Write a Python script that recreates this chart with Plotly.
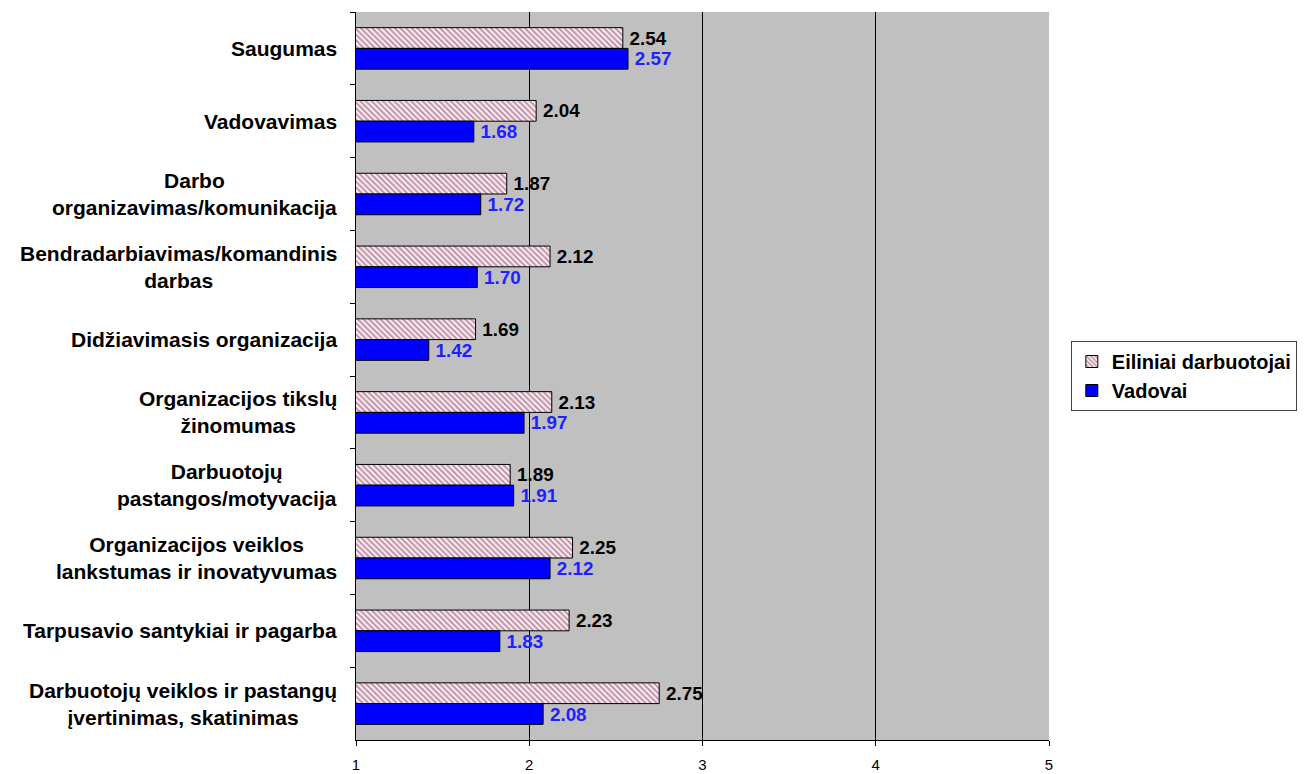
import plotly.graph_objects as go

categories = [
    "Saugumas",
    "Vadovavimas",
    "Darbo<br>organizavimas/komunikacija",
    "Bendradarbiavimas/komandinis<br>darbas",
    "Didžiavimasis organizacija",
    "Organizacijos tikslų<br>žinomumas",
    "Darbuotojų<br>pastangos/motyvacija",
    "Organizacijos veiklos<br>lankstumas ir inovatyvumas",
    "Tarpusavio santykiai ir pagarba",
    "Darbuotojų veiklos ir pastangų<br>įvertinimas, skatinimas",
]
eiliniai = [2.54, 2.04, 1.87, 2.12, 1.69, 2.13, 1.89, 2.25, 2.23, 2.75]
vadovai = [2.57, 1.68, 1.72, 1.70, 1.42, 1.97, 1.91, 2.12, 1.83, 2.08]
x_ticks = [1, 2, 3, 4, 5]

FONT = "Liberation Sans, Arial, sans-serif"

fig = go.Figure()
fig.add_trace(go.Bar(
    y=categories, x=eiliniai, orientation="h", name="Eiliniai darbuotojai",
    marker=dict(color="white", line=dict(color="black", width=1),
                pattern=dict(shape="\\", fgcolor="#8e2f5c", bgcolor="white",
                             size=4, solidity=0.6)),
    text=[f"\u2009{v:.2f}" for v in eiliniai], textposition="outside",
    textfont=dict(family=FONT, size=20, color="black", weight="bold"),
    cliponaxis=False,
))
fig.add_trace(go.Bar(
    y=categories, x=vadovai, orientation="h", name="Vadovai",
    marker=dict(color="#0000FF", line=dict(color="black", width=1)),
    text=[f"\u2009{v:.2f}" for v in vadovai], textposition="outside",
    textfont=dict(family=FONT, size=20, color="#1f1fff", weight="bold"),
    cliponaxis=False,
))

for c in categories:
    fig.add_annotation(
        x=0, xref="paper", y=c, yref="y", text=c, showarrow=False,
        xanchor="right", yanchor="middle", align="center", xshift=-17,
        font=dict(family=FONT, size=21, color="black", weight="bold"),
    )

fig.update_layout(
    width=1308, height=774,
    margin=dict(l=356, r=258, t=12, b=34),
    paper_bgcolor="white", plot_bgcolor="#C0C0C0",
    barmode="group", bargap=0.43, bargroupgap=0,
    font=dict(family=FONT, size=16, color="black"),
    showlegend=True,
    legend=dict(x=1.03, xanchor="left", y=0.5, yanchor="middle",
                bgcolor="white", bordercolor="#444", borderwidth=1,
                font=dict(family=FONT, size=20, color="black", weight="bold"),
                tracegroupgap=0, itemwidth=30),
)
fig.update_xaxes(
    range=[1, 5], tickvals=x_ticks, ticktext=[str(t) for t in x_ticks],
    showgrid=True, gridcolor="black", gridwidth=1,
    showline=True, linecolor="black", linewidth=1,
    ticks="outside", ticklen=5, tickcolor="black",
    ticklabelstandoff=6, zeroline=False, automargin=False,
    tickfont=dict(family=FONT, size=15, color="black"),
)
fig.update_yaxes(
    autorange="reversed", showticklabels=False, automargin=False,
    showline=True, linecolor="black", linewidth=1,
    ticks="outside", ticklen=5, tickcolor="black", tickson="boundaries",
    showgrid=False,
)

fig.write_html("out.html")
